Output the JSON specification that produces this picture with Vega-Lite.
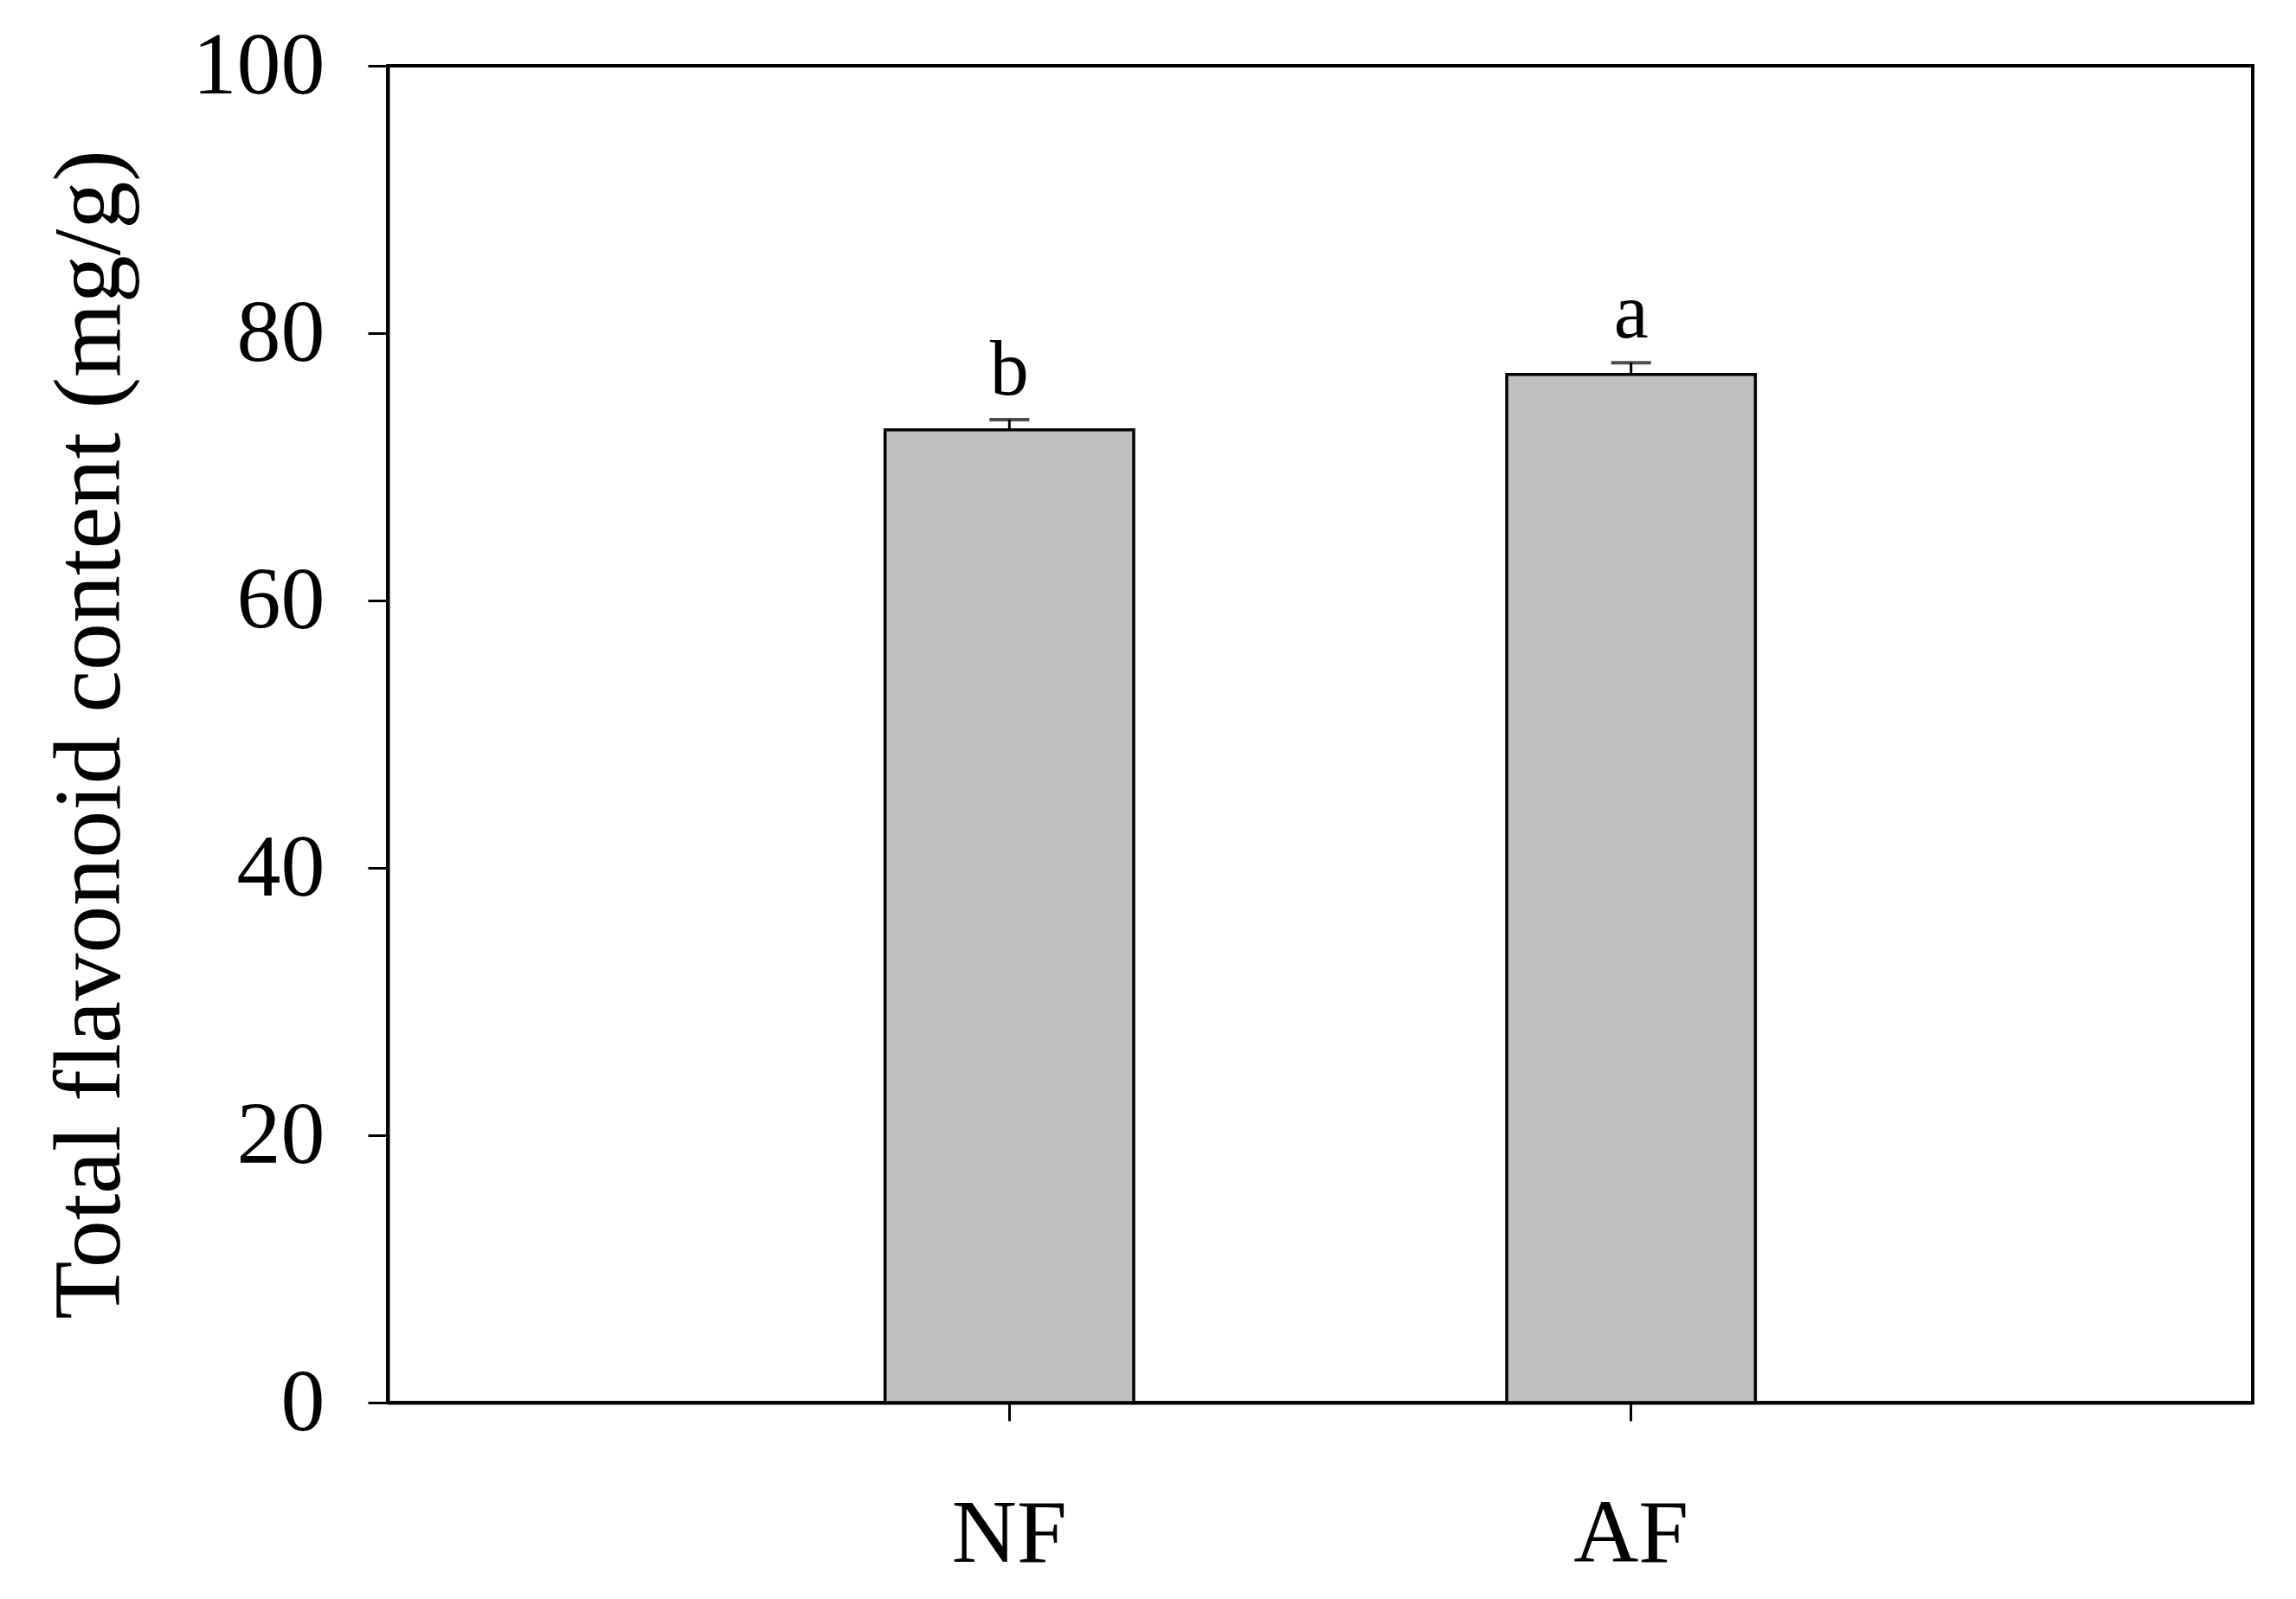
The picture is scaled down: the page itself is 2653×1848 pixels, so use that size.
{
  "$schema": "https://vega.github.io/schema/vega-lite/v6.json",
  "autosize": {"type": "none"},
  "padding": {"left": 448, "top": 76, "right": 50, "bottom": 227},
  "width": 2155,
  "height": 1545,
  "background": "white",
  "config": {
    "font": "Liberation Serif",
    "view": {"stroke": "#000", "strokeWidth": 4},
    "axis": {"grid": false, "domainColor": "#000", "domainWidth": 4, "tickColor": "#000", "tickWidth": 3, "labelColor": "#000", "titleColor": "#000", "labelFont": "Liberation Serif", "titleFont": "Liberation Serif"}
  },
  "data": {"values": [
    {"group": "NF", "mean": 72.77, "upper": 73.53, "sig": "b"},
    {"group": "AF", "mean": 76.91, "upper": 77.78, "sig": "a"}
  ]},
  "encoding": {
    "x": {
      "field": "group", "type": "nominal", "sort": ["NF", "AF"],
      "scale": {"paddingInner": 0.6, "paddingOuter": 0.8},
      "axis": {"title": null, "labelAngle": 0, "labelFontSize": 104, "labelPadding": 80, "tickSize": 21}
    }
  },
  "layer": [
    {
      "mark": {"type": "bar", "fill": "#c0c0c0", "stroke": "#000", "strokeWidth": 3.5},
      "encoding": {
        "y": {
          "field": "mean", "type": "quantitative",
          "scale": {"domain": [0, 100], "nice": false},
          "axis": {"title": "Total flavonoid content (mg/g)", "values": [0, 20, 40, 60, 80, 100], "labelFontSize": 102, "labelPadding": 50, "tickSize": 23, "titleFontSize": 110, "titleFontWeight": "normal", "titlePadding": 88}
        }
      }
    },
    {
      "mark": {"type": "rule", "color": "#000", "strokeWidth": 3},
      "encoding": {"y": {"field": "mean", "type": "quantitative"}, "y2": {"field": "upper"}}
    },
    {
      "mark": {"type": "tick", "color": "#000", "size": 46, "thickness": 4},
      "encoding": {"y": {"field": "upper", "type": "quantitative"}}
    },
    {
      "mark": {"type": "text", "fontSize": 90, "baseline": "alphabetic", "dy": -29, "color": "#000"},
      "encoding": {"y": {"field": "upper", "type": "quantitative"}, "text": {"field": "sig"}}
    }
  ]
}
